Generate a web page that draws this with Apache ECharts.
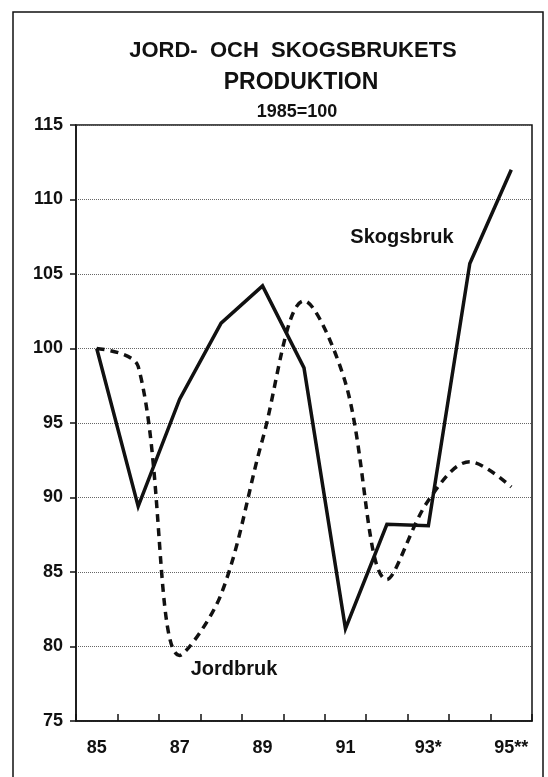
<!DOCTYPE html>
<html lang="sv">
<head>
    <meta charset="UTF-8">
    <title>Jord- och skogsbrukets produktion</title>
    <script src="https://cdn.jsdelivr.net/npm/echarts@6/dist/echarts.min.js"></script>
    <style>
        html, body { margin: 0; padding: 0; background: #fff; }
        #chart { width: 548px; height: 777px; }
    </style>
</head>
<body>
    <div id="chart"></div>
    <script>
        // årtal (index 1985=100)
        var years = ['85', '86', '87', '88', '89', '90', '91', '92', '93*', '94', '95**'];
        var skogsbruk = [100, 89.4, 96.6, 101.7, 104.2, 98.7, 81.2, 88.2, 88.1, 105.7, 112.0];
        var jordbruk = [100, 98.8, 79.4, 83.5, 93.9, 103.2, 97.7, 84.5, 89.8, 92.4, 90.7];
        var yTicks = [75, 80, 85, 90, 95, 100, 105, 110, 115];

        var font = '"Liberation Sans", Arial, sans-serif';
        var chart = echarts.init(document.getElementById('chart'));

        chart.setOption({
            animation: false,
            backgroundColor: '#fff',
            grid: {
                left: 76,
                right: 16,
                top: 125,
                bottom: 56,
                show: true,
                borderColor: '#111',
                borderWidth: 1.5
            },
            xAxis: {
                type: 'category',
                data: years,
                boundaryGap: true,
                axisLine: { lineStyle: { color: '#111', width: 1.5 } },
                axisTick: { show: true, inside: true, length: 7, interval: 0, lineStyle: { color: '#111', width: 1.5 } },
                axisLabel: {
                    interval: 1,
                    margin: 18,
                    color: '#111',
                    fontFamily: font,
                    fontWeight: 'bold',
                    fontSize: 18
                },
                splitLine: { show: false }
            },
            yAxis: {
                type: 'value',
                min: yTicks[0],
                max: yTicks[yTicks.length - 1],
                interval: 5,
                axisLine: { show: true, lineStyle: { color: '#111', width: 1.5 } },
                axisTick: { show: true, length: 6, lineStyle: { color: '#111', width: 1.5 } },
                axisLabel: {
                    margin: 13,
                    color: '#111',
                    fontFamily: font,
                    fontWeight: 'bold',
                    fontSize: 18
                },
                splitLine: { show: true, lineStyle: { color: '#666', width: 1, type: 'dotted' } }
            },
            series: [
                {
                    name: 'Skogsbruk',
                    type: 'line',
                    data: skogsbruk,
                    symbol: 'none',
                    lineStyle: { color: '#111', width: 3.5, join: 'miter' }
                },
                {
                    name: 'Jordbruk',
                    type: 'line',
                    data: jordbruk,
                    symbol: 'none',
                    smooth: 0.35,
                    lineStyle: { color: '#111', width: 3.5, type: [8, 6] }
                }
            ],
            graphic: [
                // ram runt hela figuren
                {
                    type: 'rect',
                    shape: { x: 13, y: 12, width: 530, height: 790 },
                    style: { fill: 'none', stroke: '#111', lineWidth: 1.5 },
                    silent: true
                },
                {
                    type: 'text',
                    x: 293, y: 51,
                    style: { text: 'JORD-  OCH  SKOGSBRUKETS', font: 'bold 22px ' + font, fill: '#111', align: 'center', verticalAlign: 'middle' }
                },
                {
                    type: 'text',
                    x: 301, y: 83,
                    style: { text: 'PRODUKTION', font: 'bold 23px ' + font, fill: '#111', align: 'center', verticalAlign: 'middle' }
                },
                {
                    type: 'text',
                    x: 297, y: 112,
                    style: { text: '1985=100', font: 'bold 18px ' + font, fill: '#111', align: 'center', verticalAlign: 'middle' }
                },
                {
                    type: 'text',
                    x: 402, y: 237,
                    style: { text: 'Skogsbruk', font: 'bold 20px ' + font, fill: '#111', align: 'center', verticalAlign: 'middle' }
                },
                {
                    type: 'text',
                    x: 234, y: 669,
                    style: { text: 'Jordbruk', font: 'bold 20px ' + font, fill: '#111', align: 'center', verticalAlign: 'middle' }
                }
            ]
        });
    </script>
</body>
</html>
